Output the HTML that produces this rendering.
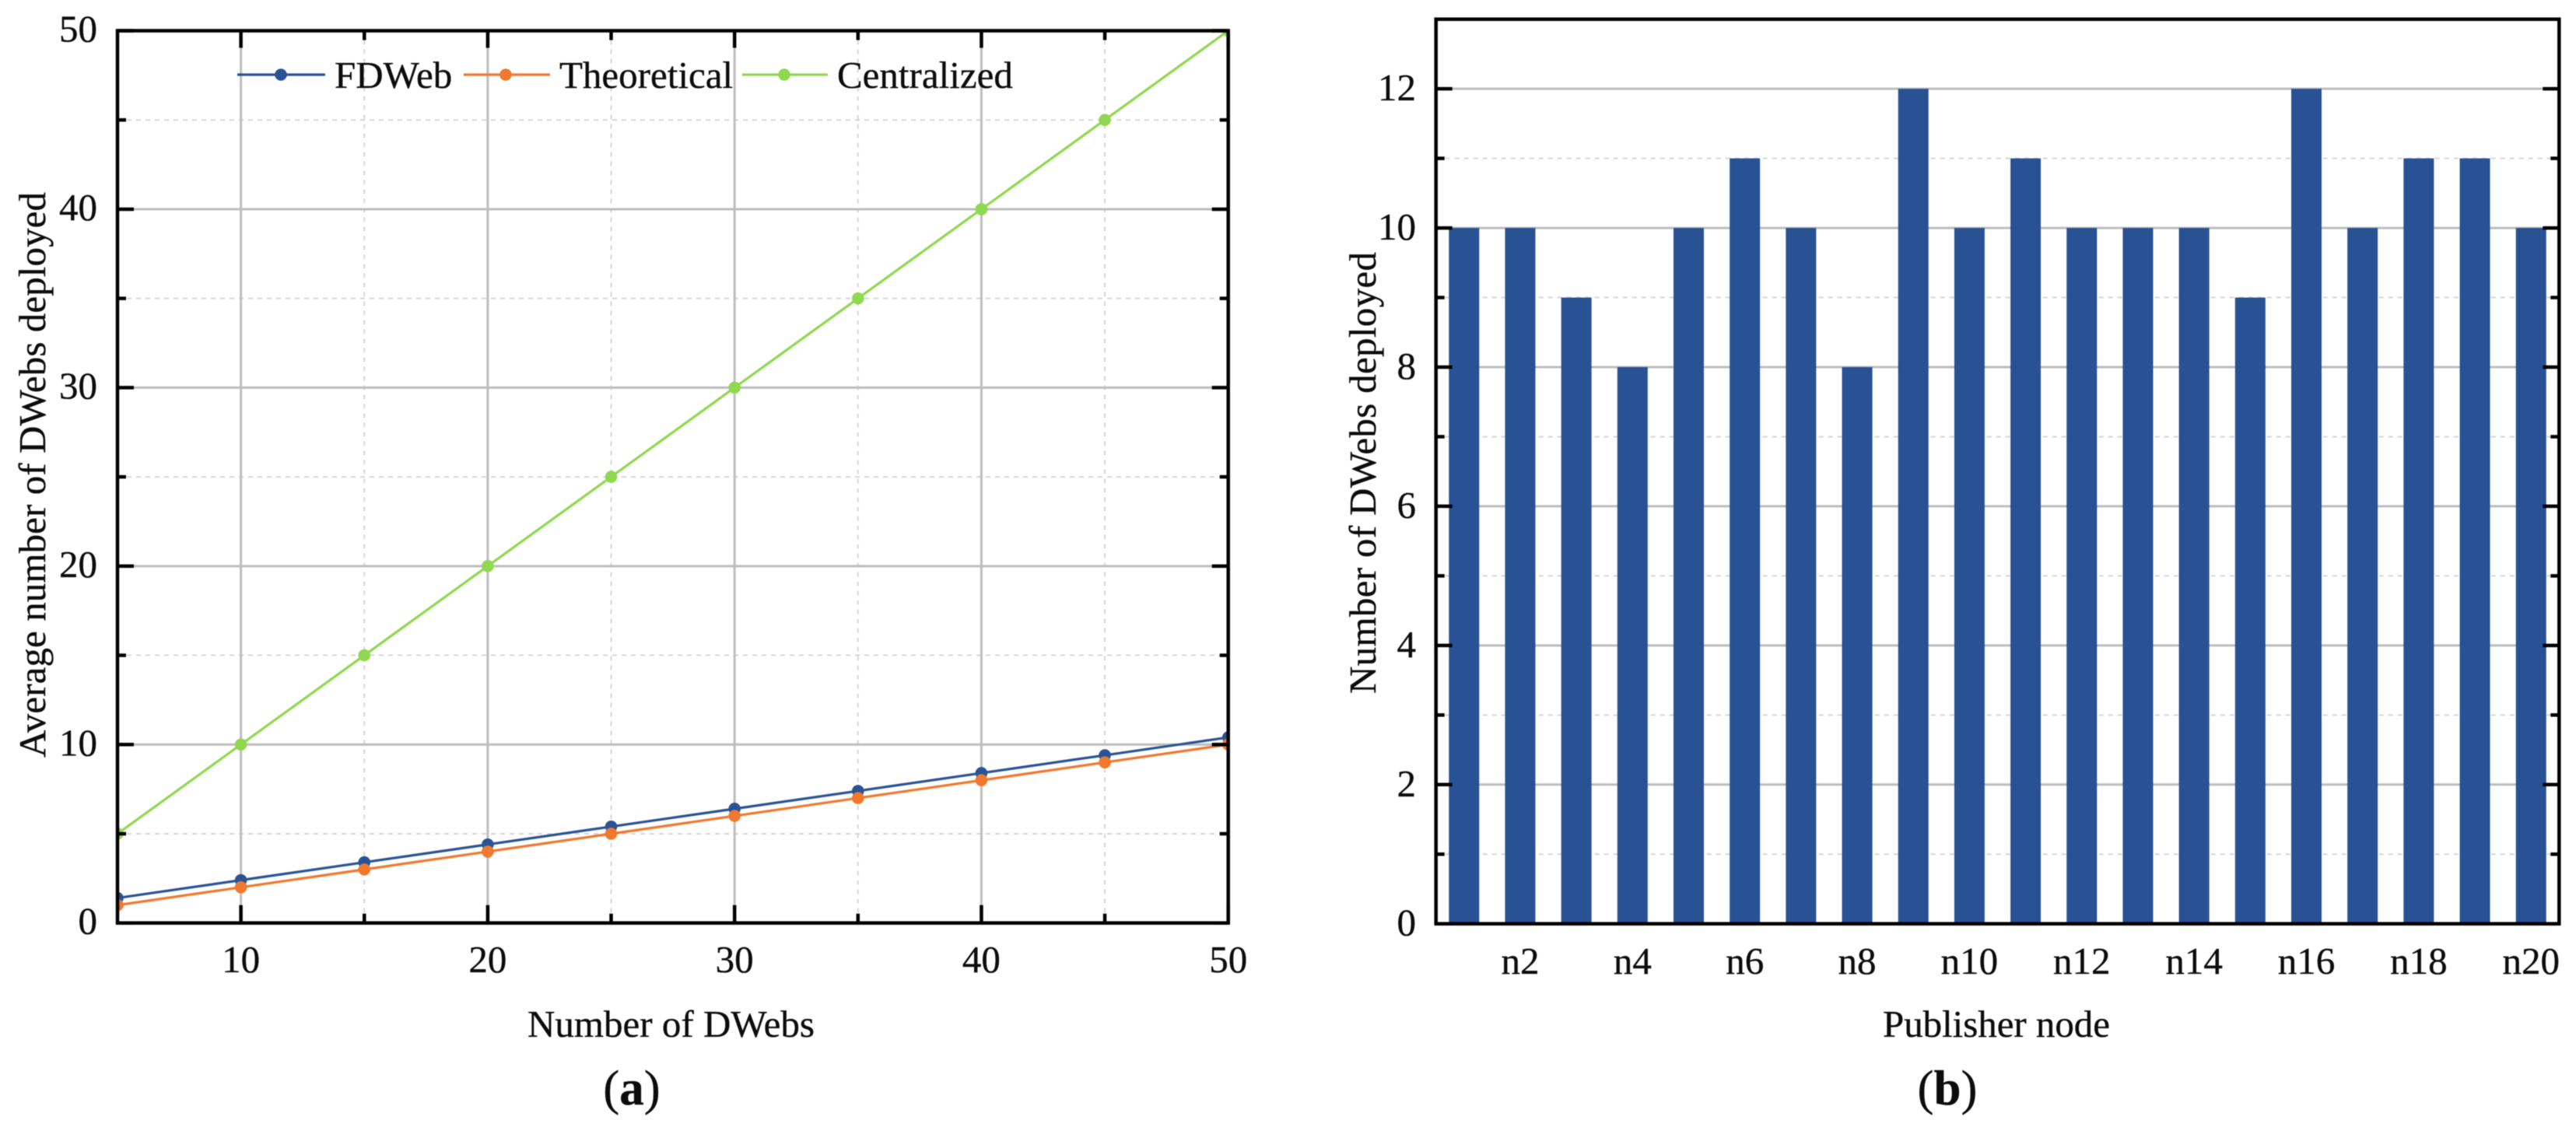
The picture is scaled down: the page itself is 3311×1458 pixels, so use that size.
<!DOCTYPE html>
<html lang="en">
<head>
<meta charset="utf-8">
<title>DWebs deployment charts</title>
<style>
html,body{margin:0;padding:0;background:#fff;}
#figure{display:block;width:3311px;height:1458px;filter:blur(0.6px);}
text{font-family:"Liberation Serif",serif;font-size:49px;fill:#0c0c0c;stroke:#0c0c0c;stroke-width:0.35px;}
</style>
</head>
<body>
<svg id="figure" xmlns="http://www.w3.org/2000/svg" width="3311" height="1458" viewBox="0 0 3311 1458">
  <rect x="0" y="0" width="3311" height="1458" fill="#ffffff"/>
  <defs>
    <clipPath id="clip-a"><rect x="151" y="39.5" width="1427.7" height="1147.2"/></clipPath>
  </defs>
  <g id="chart-a"></g>
  <g id="chart-b"></g>

  <text transform="translate(58 974) rotate(-90)" textLength="727">Average number of DWebs deployed</text>
  <text x="678" y="1333" textLength="369">Number of DWebs</text>
  <text transform="translate(1768 892) rotate(-90)" textLength="568">Number of DWebs deployed</text>
  <text x="2566" y="1333" text-anchor="middle" textLength="292">Publisher node</text>
  <text x="812" y="1420" text-anchor="middle" style="font-size:63px">(<tspan font-weight="bold">a</tspan>)</text>
  <text x="2503" y="1420" text-anchor="middle" style="font-size:63px">(<tspan font-weight="bold">b</tspan>)</text>

  <g id="legend">
    <g>
      <line x1="305" y1="96" x2="418" y2="96" stroke="#2a5396" stroke-width="3.2"/>
      <circle cx="361" cy="96" r="7.8" fill="#2a5396"/>
      <text x="430" y="113">FDWeb</text>
    </g>
    <g>
      <line x1="596" y1="96" x2="707" y2="96" stroke="#f0782f" stroke-width="3.2"/>
      <circle cx="650" cy="96" r="7.8" fill="#f0782f"/>
      <text x="719" y="113">Theoretical</text>
    </g>
    <g>
      <line x1="954" y1="96" x2="1064" y2="96" stroke="#8fd84f" stroke-width="3.2"/>
      <circle cx="1008" cy="96" r="7.8" fill="#8fd84f"/>
      <text x="1076" y="113">Centralized</text>
    </g>
  </g>
</svg>
<script>
const lineXValues = [5, 10, 15, 20, 25, 30, 35, 40, 45, 50];
const fdwebValues = [1.4, 2.4, 3.4, 4.4, 5.4, 6.4, 7.4, 8.4, 9.4, 10.4];
const theoreticalValues = [1, 2, 3, 4, 5, 6, 7, 8, 9, 10];
const centralizedValues = [5, 10, 15, 20, 25, 30, 35, 40, 45, 50];
const lineXMajorTicks = [10, 20, 30, 40, 50];
const lineXMinorTicks = [15, 25, 35, 45];
const lineYMajorTicks = [0, 10, 20, 30, 40, 50];
const lineYMinorTicks = [5, 15, 25, 35, 45];

const nodeNames = ['n1','n2','n3','n4','n5','n6','n7','n8','n9','n10','n11','n12','n13','n14','n15','n16','n17','n18','n19','n20'];
const nodeValues = [10, 10, 9, 8, 10, 11, 10, 8, 12, 10, 11, 10, 10, 10, 9, 12, 10, 11, 11, 10];
const barYMajorTicks = [0, 2, 4, 6, 8, 10, 12];
const barYMinorTicks = [1, 3, 5, 7, 9, 11];

const SVGNS = 'http://www.w3.org/2000/svg';
function make(tag, attrs, parent) {
  const n = document.createElementNS(SVGNS, tag);
  for (const k in attrs) n.setAttribute(k, attrs[k]);
  parent.appendChild(n);
  return n;
}

/* ---------- panel a ---------- */
const A = {left: 151, right: 1578.7, top: 39.5, bottom: 1186.7, xMin: 5, xMax: 50, yMin: 0, yMax: 50};
const xA = v => A.left + (v - A.xMin) * (A.right - A.left) / (A.xMax - A.xMin);
const yA = v => A.bottom - (v - A.yMin) * (A.bottom - A.top) / (A.yMax - A.yMin);
const chartA = document.getElementById('chart-a');

lineYMinorTicks.forEach(v => {
  const g = make('line', {x1: A.left, x2: A.right, y1: yA(v), y2: yA(v), stroke: '#d6d6d6', 'stroke-width': 2, 'stroke-dasharray': '6 6'}, chartA);
  
  
});
lineXMinorTicks.forEach(v => {
  const g = make('line', {x1: xA(v), x2: xA(v), y1: A.top, y2: A.bottom, stroke: '#d6d6d6', 'stroke-width': 2, 'stroke-dasharray': '6 6'}, chartA);
  
  
});
lineYMajorTicks.forEach(v => {
  const g = make('line', {x1: A.left, x2: A.right, y1: yA(v), y2: yA(v), stroke: '#bdbdbd', 'stroke-width': 3}, chartA);
  
  
});
lineXMajorTicks.forEach(v => {
  const g = make('line', {x1: xA(v), x2: xA(v), y1: A.top, y2: A.bottom, stroke: '#bdbdbd', 'stroke-width': 3}, chartA);
  
  
});

const seriesGroup = make('g', {'clip-path': 'url(#clip-a)'}, chartA);


function drawSeries(name, values, color) {
  const pts = values.map((v, i) => xA(lineXValues[i]) + ',' + yA(v)).join(' ');
  const line = make('polyline', {points: pts, fill: 'none', stroke: color, 'stroke-width': 3.2}, seriesGroup);
  
  
  values.forEach((v, i) => {
    const c = make('circle', {cx: xA(lineXValues[i]), cy: yA(v), r: 7.8, fill: color}, seriesGroup);
    
    
  });
}
drawSeries('centralized', centralizedValues, '#8fd84f');
drawSeries('fdweb', fdwebValues, '#2a5396');
drawSeries('theoretical', theoreticalValues, '#f0782f');

function tick(parent, name, x1, y1, x2, y2) {
  const t = make('line', {x1, y1, x2, y2, stroke: '#000', 'stroke-width': 4.5}, parent);
  
  
}
lineXMajorTicks.forEach(v => {
  tick(chartA, 'x-tick-major', xA(v), A.bottom, xA(v), A.bottom - 23);
  tick(chartA, 'x-tick-major-top', xA(v), A.top, xA(v), A.top + 22);
  const t = make('text', {x: xA(v), y: 1250, 'text-anchor': 'middle'}, chartA);
  t.textContent = v;
  
  
});
lineXMinorTicks.forEach(v => {
  tick(chartA, 'x-tick-minor', xA(v), A.bottom, xA(v), A.bottom - 12);
  tick(chartA, 'x-tick-minor-top', xA(v), A.top, xA(v), A.top + 12);
});
lineYMajorTicks.forEach(v => {
  tick(chartA, 'y-tick-major', A.left, yA(v), A.left + 21, yA(v));
  tick(chartA, 'y-tick-major-right', A.right, yA(v), A.right - 21, yA(v));
  const t = make('text', {x: 125, y: yA(v) + 14, 'text-anchor': 'end'}, chartA);
  t.textContent = v;
  
  
});
lineYMinorTicks.forEach(v => {
  tick(chartA, 'y-tick-minor', A.left, yA(v), A.left + 11, yA(v));
  tick(chartA, 'y-tick-minor-right', A.right, yA(v), A.right - 11, yA(v));
});
const frameA = make('rect', {x: A.left, y: A.top, width: A.right - A.left, height: A.bottom - A.top, fill: 'none', stroke: '#000', 'stroke-width': 4.5}, chartA);



/* ---------- panel b ---------- */
const B = {left: 1845.7, right: 3289.3, top: 24.7, bottom: 1187.7, yMin: 0, yMax: 13, barWidth: 39};
const xB = i => B.left + (i + 0.5) * (B.right - B.left) / nodeNames.length;
const yB = v => B.bottom - (v - B.yMin) * (B.bottom - B.top) / (B.yMax - B.yMin);
const chartB = document.getElementById('chart-b');

barYMinorTicks.forEach(v => {
  const g = make('line', {x1: B.left, x2: B.right, y1: yB(v), y2: yB(v), stroke: '#d6d6d6', 'stroke-width': 2, 'stroke-dasharray': '6 6'}, chartB);
  
  
});
barYMajorTicks.forEach(v => {
  const g = make('line', {x1: B.left, x2: B.right, y1: yB(v), y2: yB(v), stroke: '#bdbdbd', 'stroke-width': 3}, chartB);
  
  
});
nodeValues.forEach((v, i) => {
  const r = make('rect', {x: xB(i) - B.barWidth / 2, y: yB(v), width: B.barWidth, height: yB(0) - yB(v), fill: '#285293'}, chartB);
  
  
});
nodeNames.forEach((name, i) => {
  if (i % 2 === 1) {
    const t = make('text', {x: xB(i), y: 1252, 'text-anchor': 'middle'}, chartB);
    t.textContent = name;
    
    
  }
});
barYMajorTicks.forEach(v => {
  tick(chartB, 'y-tick-major', B.left, yB(v), B.left + 21, yB(v));
  tick(chartB, 'y-tick-major-right', B.right, yB(v), B.right - 21, yB(v));
  const t = make('text', {x: 1820, y: yB(v) + 15, 'text-anchor': 'end'}, chartB);
  t.textContent = v;
  
  
});
barYMinorTicks.forEach(v => {
  tick(chartB, 'y-tick-minor', B.left, yB(v), B.left + 11, yB(v));
  tick(chartB, 'y-tick-minor-right', B.right, yB(v), B.right - 11, yB(v));
});
const frameB = make('rect', {x: B.left, y: B.top, width: B.right - B.left, height: B.bottom - B.top, fill: 'none', stroke: '#000', 'stroke-width': 4.5}, chartB);


</script>
</body>
</html>
